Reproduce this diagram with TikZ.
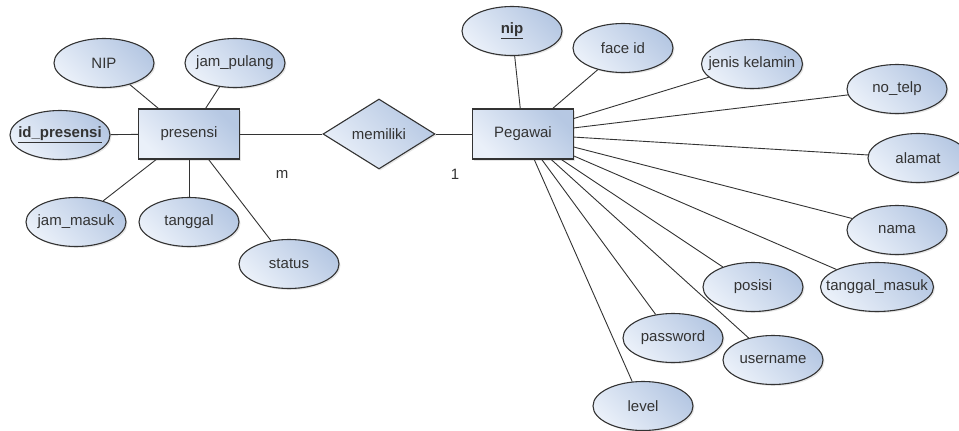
\documentclass[tikz,border=0pt]{standalone}
\usepackage{fontspec}
\setmainfont{Liberation Sans}
\usetikzlibrary{shapes.geometric,shadows}
\definecolor{erlight}{HTML}{EAF0F9}
\definecolor{erdark}{HTML}{B6C8E3}
\definecolor{erline}{HTML}{333333}
\begin{document}
\begin{tikzpicture}[x=1pt,y=-1pt,font=\fontsize{15}{17}\selectfont,text=erline,
        erfill/.style={draw=erline,line width=1.1pt,top color=erdark,bottom color=erlight,shading angle=-45,
            drop shadow={shadow xshift=1.5pt,shadow yshift=-1.5pt,opacity=0.2}},
        entity/.style={erfill,rectangle,minimum width=101pt,minimum height=50pt,inner sep=0pt},
        attr/.style={erfill,ellipse,minimum width=100pt,minimum height=49pt,inner sep=0pt,
            execute at begin node={\hbox to 0pt\bgroup\hss},execute at end node={\hss\egroup}},
        rel/.style={erfill,diamond,minimum width=112pt,minimum height=70pt,inner sep=0pt},
        link/.style={draw=erline,line width=0.9pt}]
        \useasboundingbox (0,0) rectangle (959,431);
        % entities and relation
        \node[entity] (presensi) at (189,134) {presensi};
        \node[rel] (memiliki) at (379,134) {memiliki};
        \node[entity] (pegawai) at (523,134) {Pegawai};
        \node (m) at (282,174) {m};
        \node (one) at (455,174) {1};
        % attributes of presensi
        \node[attr] (nipp) at (104,63) {NIP};
        \node[attr] (jampulang) at (235,63) {jam\_pulang};
        \node[attr] (idpresensi) at (60,135) {\underline{\textbf{id\_presensi}}};
        \node[attr] (jammasuk) at (76,222) {jam\_masuk};
        \node[attr] (tanggal) at (189,222) {tanggal};
        \node[attr] (status) at (289,264) {status};
        % attributes of Pegawai
        \node[attr] (nip) at (512,31) {\underline{\textbf{nip}}};
        \node[attr] (faceid) at (623,48) {face id};
        \node[attr,minimum width=101pt] (jenis) at (752,64) {jenis kelamin};
        \node[attr] (notelp) at (897,89) {no\_telp};
        \node[attr] (alamat) at (918,158) {alamat};
        \node[attr] (nama) at (897,230) {nama};
        \node[attr,minimum width=113pt] (tglmasuk) at (877,287) {tanggal\_masuk};
        \node[attr] (posisi) at (753,287) {posisi};
        \node[attr] (password) at (673,338) {password};
        \node[attr] (username) at (773,360) {username};
        \node[attr] (level) at (643,406) {level};
        % connectors
        \draw[link] (presensi) -- (memiliki);
        \draw[link] (memiliki) -- (pegawai);
        \foreach \a in {nipp,jampulang,idpresensi,jammasuk,tanggal,status}
            \draw[link] (presensi) -- (\a);
        \foreach \a in {nip,faceid,jenis,notelp,alamat,nama,tglmasuk,posisi,password,username,level}
            \draw[link] (pegawai) -- (\a);
    \end{tikzpicture}
\end{document}
